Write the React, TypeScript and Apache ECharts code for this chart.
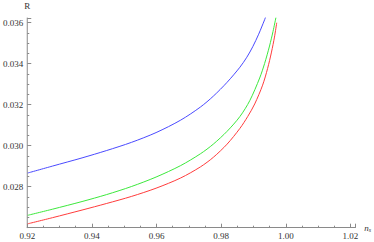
import React, { useEffect, useRef } from "react";
import * as echarts from "echarts";

const blueNs = [0.92015, 0.92779, 0.93695, 0.94458, 0.95221, 0.95985, 0.96748, 0.97359, 0.97756, 0.98183, 0.9858, 0.98794, 0.98977, 0.9916, 0.99344, 0.99374];
const blueR = [0.028668, 0.029005, 0.029405, 0.029766, 0.030161, 0.030639, 0.031249, 0.031888, 0.032415, 0.033093, 0.033829, 0.034317, 0.034829, 0.035439, 0.036146, 0.036273];

const greenNs = [0.92015, 0.92779, 0.93695, 0.94458, 0.95221, 0.95985, 0.96748, 0.97359, 0.97756, 0.98183, 0.9858, 0.988855, 0.99191, 0.993435, 0.99496, 0.99603, 0.99695];
const greenR = [0.026605, 0.026902, 0.027276, 0.027617, 0.028007, 0.028471, 0.029032, 0.029607, 0.030076, 0.030702, 0.031424, 0.0322, 0.033302, 0.03401, 0.034863, 0.035566, 0.036259];

const redNs = [0.92015, 0.92779, 0.93695, 0.94458, 0.95221, 0.95985, 0.96748, 0.97359, 0.97756, 0.98183, 0.9858, 0.98824, 0.99038, 0.99282, 0.99435, 0.99557, 0.99649, 0.99719];
const redR = [0.02619, 0.026488, 0.026861, 0.027183, 0.027524, 0.027927, 0.028427, 0.028968, 0.029432, 0.030076, 0.030846, 0.031432, 0.032037, 0.032954, 0.033759, 0.034568, 0.0353, 0.035998];

const xTickFormat = (v: number) => v.toFixed(2);
const yTickFormat = (v: number) => v.toFixed(3);

const zip = (xs: number[], ys: number[]) => xs.map((x, i) => [x, ys[i]]);

const FONT = "Liberation Serif";

export default function App() {
  const ref = useRef<HTMLDivElement>(null);
  useEffect(() => {
    if (!ref.current) return;
    const chart = echarts.init(ref.current, undefined, { renderer: "svg" });
    const axisCommon = {
      axisLine: { show: true, lineStyle: { color: "#8a8a8a", width: 1 } },
      axisTick: { show: true, inside: true, length: 4, lineStyle: { color: "#8a8a8a" } },
      minorTick: { show: true, splitNumber: 4, length: 2, lineStyle: { color: "#8a8a8a" } },
      splitLine: { show: false },
      minorSplitLine: { show: false },
    };
    chart.setOption({
      animation: false,
      grid: { left: 24.5, right: 17, top: 18, bottom: 14.3, containLabel: false },
      xAxis: {
        type: "value",
        min: 0.92,
        max: 1.02153,
        interval: 0.02,
        ...axisCommon,
        axisLabel: {
          formatter: xTickFormat,
          showMaxLabel: false,
          color: "#333",
          fontFamily: FONT,
          fontSize: 9,
          margin: 4,
        },
        name: "{n|n}{s|s}",
        nameLocation: "end",
        nameGap: 7,
        nameTextStyle: {
          rich: {
            n: { fontFamily: FONT, fontStyle: "italic", fontSize: 9, color: "#333" },
            s: { fontFamily: FONT, fontStyle: "italic", fontSize: 6, color: "#333", verticalAlign: "bottom", padding: [4, 0, 0, 0] },
          },
        },
      },
      yAxis: {
        type: "value",
        min: 0.026,
        max: 0.03623,
        interval: 0.002,
        ...axisCommon,
        axisLabel: {
          formatter: yTickFormat,
          showMaxLabel: false,
          showMinLabel: false,
          color: "#333",
          fontFamily: FONT,
          fontSize: 9,
          margin: 4,
        },
        name: "R",
        nameLocation: "end",
        nameGap: 8,
        nameTextStyle: { fontFamily: FONT, fontSize: 9, color: "#333", align: "center" },
      },
      series: [
        { type: "line", data: zip(blueNs, blueR), smooth: 0.3, showSymbol: false, lineStyle: { color: "#4a4aff", width: 1 } },
        { type: "line", data: zip(greenNs, greenR), smooth: 0.3, showSymbol: false, lineStyle: { color: "#3ce83c", width: 1 } },
        { type: "line", data: zip(redNs, redR), smooth: 0.3, showSymbol: false, lineStyle: { color: "#ff3c3c", width: 1 } },
      ],
    });
    return () => chart.dispose();
  }, []);
  return (
    <div
      ref={ref}
      style={{ position: "fixed", left: 0, top: 0, width: 374, height: 242, background: "#fff" }}
    />
  );
}
